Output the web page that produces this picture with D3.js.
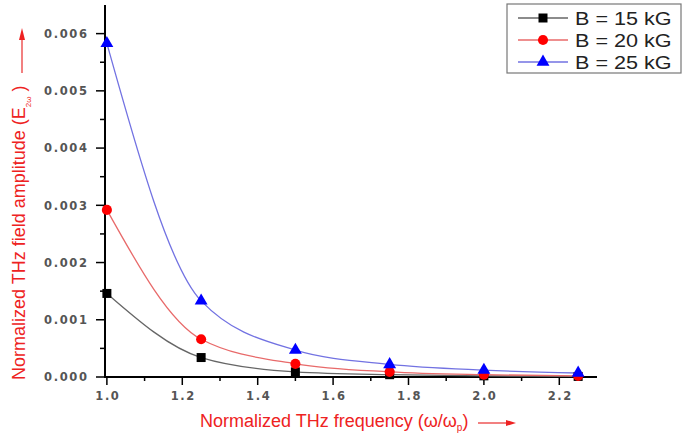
<!DOCTYPE html>
<html>
<head>
<meta charset="utf-8">
<script src="https://cdn.jsdelivr.net/npm/d3@7"></script>
<style>
  body { margin: 0; background: #fff; }
  svg { display: block; }
</style>
</head>
<body>
<svg id="chart" width="685" height="443"></svg>
<script>
// Data
const freq = [1.0, 1.25, 1.5, 1.75, 2.0, 2.25];
const b15 = [0.00146, 0.00034, 0.00009, 0.00004, 0.00002, 0.00001];
const b20 = [0.00292, 0.00066, 0.00023, 0.00009, 0.00004, 0.00002];
const b25 = [0.00583, 0.00133, 0.00047, 0.00022, 0.00012, 0.00007];
const seriesNames = ["B = 15 kG", "B = 20 kG", "B = 25 kG"];
const xTicks = [1.0, 1.2, 1.4, 1.6, 1.8, 2.0, 2.2];
const yTicks = [0, 0.001, 0.002, 0.003, 0.004, 0.005, 0.006];

const svg = d3.select("#chart");
const plotLeft = 105, plotRight = 597, plotTop = 5, plotBottom = 377;

const x = d3.scaleLinear().domain([0.995, 2.3]).range([plotLeft, plotRight]);
const y = d3.scaleLinear().domain([0, 0.0065]).range([plotBottom, plotTop]);

const series = [
    { name: seriesNames[0], values: b15, line: "#666666", fill: "#000000", symbol: d3.symbolSquare, size: 81 },
    { name: seriesNames[1], values: b20, line: "#e86a6a", fill: "#ff0000", symbol: d3.symbolCircle, size: 80 },
    { name: seriesNames[2], values: b25, line: "#7272e2", fill: "#0000ff", symbol: d3.symbolTriangle, size: 72 }
];

// Axes
const tickFont = "DejaVu Sans, Verdana, sans-serif";
const textFont = "Liberation Sans, Arial, sans-serif";

const xAxis = svg.append("g").attr("transform", `translate(0, ${plotBottom})`);
// minor ticks
xAxis.selectAll("line.minor")
    .data(d3.range(1.1, 2.3, 0.2))
    .join("line")
    .attr("x1", d => x(d)).attr("x2", d => x(d))
    .attr("y1", 0).attr("y2", 4)
    .attr("stroke", "#000").attr("stroke-width", 1.5);
xAxis.selectAll("line.major")
    .data(xTicks)
    .join("line")
    .attr("x1", d => x(d)).attr("x2", d => x(d))
    .attr("y1", 0).attr("y2", 8)
    .attr("stroke", "#000").attr("stroke-width", 1.5);
xAxis.selectAll("text")
    .data(xTicks)
    .join("text")
    .attr("x", d => x(d) + 1)
    .attr("y", 23)
    .attr("text-anchor", "middle")
    .attr("font-family", tickFont)
    .attr("font-weight", "bold")
    .attr("font-size", "11.5px")
    .attr("letter-spacing", "1.6px")
    .attr("fill", "#555")
    .text(d => d3.format(".1f")(d));
xAxis.append("line")
    .attr("x1", plotLeft - 1).attr("x2", plotRight)
    .attr("y1", 0).attr("y2", 0)
    .attr("stroke", "#000").attr("stroke-width", 2);

const yAxis = svg.append("g").attr("transform", `translate(${plotLeft}, 0)`);
yAxis.selectAll("line.minor")
    .data(d3.range(0.0005, 0.0065, 0.001))
    .join("line")
    .attr("y1", d => y(d)).attr("y2", d => y(d))
    .attr("x1", 0).attr("x2", -5)
    .attr("stroke", "#000").attr("stroke-width", 1.5);
yAxis.selectAll("line.major")
    .data(yTicks)
    .join("line")
    .attr("y1", d => y(d)).attr("y2", d => y(d))
    .attr("x1", 0).attr("x2", -9)
    .attr("stroke", "#000").attr("stroke-width", 1.5);
yAxis.selectAll("text")
    .data(yTicks)
    .join("text")
    .attr("x", -16.5)
    .attr("y", d => y(d) + 4.2)
    .attr("text-anchor", "end")
    .attr("font-family", tickFont)
    .attr("font-weight", "bold")
    .attr("font-size", "11.5px")
    .attr("letter-spacing", "1.6px")
    .attr("fill", "#555")
    .text(d => d3.format(".3f")(d));
yAxis.append("line")
    .attr("x1", 0).attr("x2", 0)
    .attr("y1", plotTop).attr("y2", plotBottom + 1)
    .attr("stroke", "#000").attr("stroke-width", 2);

// Curves
const line = d3.line()
    .x((d, i) => x(freq[i]))
    .y(d => y(d))
    .curve(d3.curveMonotoneX);

series.forEach(s => {
    svg.append("path")
        .attr("d", line(s.values))
        .attr("fill", "none")
        .attr("stroke", s.line)
        .attr("stroke-width", 1.3);
});
series.forEach(s => {
    svg.append("g").selectAll("path")
        .data(s.values)
        .join("path")
        .attr("transform", (d, i) => `translate(${x(freq[i])}, ${y(d)})`)
        .attr("d", d3.symbol().type(s.symbol).size(s.size))
        .attr("fill", s.fill);
});

// Legend
const legend = svg.append("g");
legend.append("rect")
    .attr("x", 507).attr("y", 4)
    .attr("width", 174).attr("height", 69)
    .attr("fill", "#fff")
    .attr("stroke", "#777").attr("stroke-width", 1.2);
series.forEach((s, i) => {
    const ly = 18 + i * 22;
    legend.append("line")
        .attr("x1", 518).attr("x2", 568)
        .attr("y1", ly).attr("y2", ly)
        .attr("stroke", s.line).attr("stroke-width", 1.3);
    legend.append("path")
        .attr("transform", `translate(543, ${ly})`)
        .attr("d", d3.symbol().type(s.symbol).size(s.size))
        .attr("fill", s.fill);
    // the source image is stretched sideways, so widen the glyphs a little
    legend.append("text")
        .attr("transform", `translate(575, ${ly + 6.5}) scale(1.2, 1)`)
        .attr("font-family", textFont)
        .attr("font-size", "18px")
        .attr("fill", "#222")
        .text(s.name);
});

// Axis titles
const titleRed = "#ee2222";
const xTitle = svg.append("text")
    .attr("x", 200).attr("y", 427)
    .attr("font-family", textFont)
    .attr("font-size", "18px")
    .attr("fill", titleRed);
xTitle.append("tspan").text("Normalized THz frequency (ω/ω");
xTitle.append("tspan").attr("font-size", "10px").attr("dy", 4).text("p");
xTitle.append("tspan").attr("dy", -4).text(")");
svg.append("line")
    .attr("x1", 478).attr("x2", 508).attr("y1", 423).attr("y2", 423)
    .attr("stroke", "#f28080").attr("stroke-width", 2);
svg.append("path")
    .attr("d", "M506,420 L516,423 L506,426 Z")
    .attr("fill", titleRed);

const yTitle = svg.append("text")
    .attr("transform", "translate(25, 380) rotate(-90)")
    .attr("font-family", textFont)
    .attr("font-size", "18px")
    .attr("fill", titleRed);
yTitle.append("tspan").text("Normalized THz field amplitude (E");
yTitle.append("tspan").attr("font-size", "8px").attr("dy", 6).text("2ω");
yTitle.append("tspan").attr("dy", -6).text(" )");
svg.append("line")
    .attr("x1", 22).attr("x2", 22).attr("y1", 73).attr("y2", 38)
    .attr("stroke", "#f28080").attr("stroke-width", 2);
svg.append("path")
    .attr("d", "M19,40 L22,28 L25,40 Z")
    .attr("fill", titleRed);
</script>
</body>
</html>
